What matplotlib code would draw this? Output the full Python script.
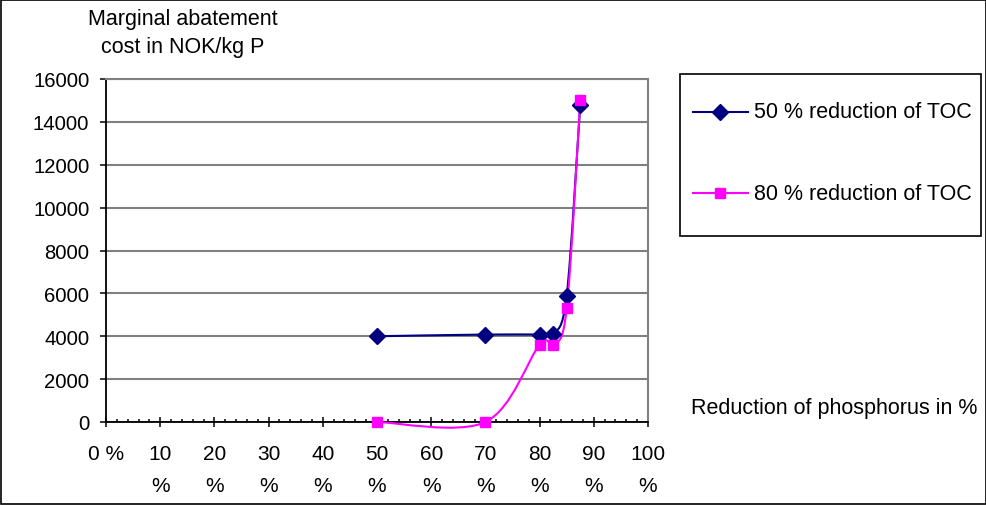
import numpy as np
import matplotlib.pyplot as plt
from matplotlib.path import Path
from matplotlib.patches import PathPatch, Rectangle
from matplotlib.lines import Line2D
from matplotlib.ticker import MultipleLocator

plt.rcParams['font.family'] = ['Liberation Sans', 'DejaVu Sans']
FS_NUM = 14.6
FS_TXT = 15.5

# 数据
reduction = [50, 70, 80, 82.5, 85, 87.5]
cost_toc50 = [4000, 4080, 4080, 4100, 5900, 14800]
cost_toc80 = [0, 0, 3600, 3600, 5300, 15000]
series_names = ['50 % reduction of TOC', '80 % reduction of TOC']
series_colors = ['#000080', '#FF00FF']
series_markers = ['D', 's']
x_ticks = list(range(0, 101, 10))
x_ticklabels = ['0 %'] + ['%d\n%%' % v for v in x_ticks[1:]]
y_ticks = list(range(0, 16001, 2000))


def smooth_path(xs, ys):
    # Excel式平滑曲线：Catmull-Rom 转 Bezier
    pts = np.column_stack([xs, ys]).astype(float)
    verts = [pts[0]]
    codes = [Path.MOVETO]
    n = len(pts)
    for i in range(n - 1):
        p0 = pts[i - 1] if i > 0 else pts[i]
        p1 = pts[i]
        p2 = pts[i + 1]
        p3 = pts[i + 2] if i + 2 < n else pts[i + 1]
        c1 = p1 + (p2 - p0) / 6.0
        c2 = p2 - (p3 - p1) / 6.0
        verts += [c1, c2, p2]
        codes += [Path.CURVE4] * 3
    return Path(verts, codes)


W, H = 987, 506
fig = plt.figure(figsize=(W / 100, H / 100), dpi=100)
ax = fig.add_axes([106 / W, (H - 423) / H, 542 / W, 343 / H])

for ys, c, m in zip([cost_toc50, cost_toc80], series_colors, series_markers):
    ax.add_patch(PathPatch(smooth_path(reduction, ys), fill=False, edgecolor=c, lw=1.5,
                           zorder=3, clip_on=False))
    ax.plot(reduction, ys, linestyle='none', marker=m, color=c, ms=8 if m == 'D' else 7.5,
            clip_on=False, zorder=4)

ax.set_xlim(0, 100)
ax.set_ylim(0, 16000)
ax.set_xticks(x_ticks)
ax.set_xticklabels(x_ticklabels, fontsize=15, linespacing=1.85, va='top')
ax.xaxis.set_minor_locator(MultipleLocator(2))
ax.set_yticks(y_ticks)
ax.set_yticklabels([str(v) for v in y_ticks], fontsize=FS_NUM)
ax.tick_params(axis='x', which='major', direction='inout', length=7, width=1.1, pad=12.5)
ax.tick_params(axis='x', which='minor', direction='in', length=2.5, width=1.1)
ax.tick_params(axis='y', which='major', direction='out', length=4, width=1.1, pad=8)
ax.grid(axis='y', color='#808080', lw=1.5)
for side in ['top', 'right']:
    ax.spines[side].set_color('#808080')
    ax.spines[side].set_linewidth(1.5)
for side in ['left', 'bottom']:
    ax.spines[side].set_color('black')
    ax.spines[side].set_linewidth(1.3)
ax.set_axisbelow(True)

# 标题与坐标轴标题
fig.text(183 / W, 1 - 20 / H, 'Marginal abatement', ha='center', va='center', fontsize=FS_TXT)
fig.text(183 / W, 1 - 47 / H, 'cost in NOK/kg P', ha='center', va='center', fontsize=FS_TXT)
fig.text(691 / W, 1 - 409 / H, 'Reduction of phosphorus in %', ha='left', va='center', fontsize=FS_TXT)

# 图例
fig.add_artist(Rectangle((680 / W, 1 - 237 / H), 301 / W, 162 / H, transform=fig.transFigure,
                         fill=False, edgecolor='black', lw=1.2))
for i, (name, c, m) in enumerate(zip(series_names, series_colors, series_markers)):
    yy = 1 - (113 + 81 * i) / H
    fig.add_artist(Line2D([693 / W, 748 / W], [yy, yy], transform=fig.transFigure, color=c, lw=1.5))
    fig.add_artist(Line2D([720 / W], [yy], transform=fig.transFigure, color=c, marker=m,
                          ms=8 if m == 'D' else 7.5, linestyle='none'))
    fig.text(754 / W, yy, name, ha='left', va='center', fontsize=FS_TXT)

# 外框
fig.add_artist(Rectangle((1 / W, 1 / H), (W - 2) / W, (H - 2) / H, transform=fig.transFigure,
                         fill=False, edgecolor='black', lw=1.2))

fig.savefig('out.png', dpi=100)
